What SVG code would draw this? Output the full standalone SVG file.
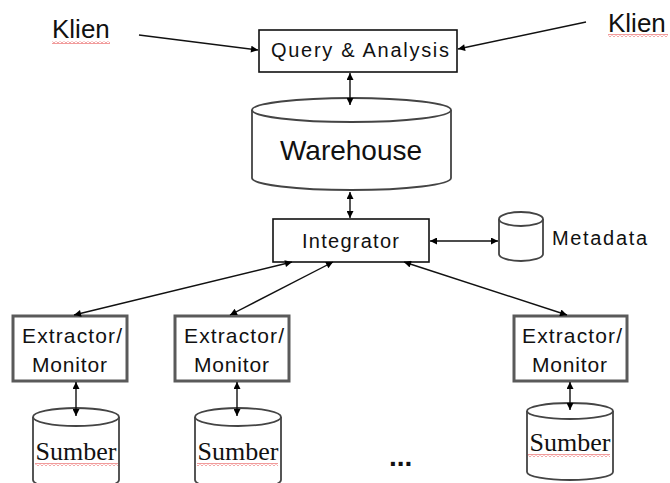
<svg xmlns="http://www.w3.org/2000/svg" width="670" height="483" viewBox="0 0 670 483">
  <defs>
    <marker id="arrow" viewBox="0 0 10 10" refX="10" refY="5" markerWidth="9" markerHeight="7" markerUnits="userSpaceOnUse" orient="auto-start-reverse">
      <path d="M0,0 L10,5 L0,10 Z" fill="#000"/>
    </marker>
    <pattern id="wavy" width="4" height="3" patternUnits="userSpaceOnUse">
      <polyline points="0,2.5 2,0.5 4,2.5" fill="none" stroke="#e02020" stroke-width="0.9"/>
    </pattern>
    <style>
      .lbl { font-family: "Liberation Sans", Arial, sans-serif; fill: #111; }
      .serif { font-family: "Liberation Serif", "Times New Roman", serif; fill: #111; }
      .box { fill: #fff; stroke: #111; stroke-width: 1.6; }
      .gbox { fill: #fff; stroke: #5a5a5a; stroke-width: 3; }
      .cyl { fill: #fff; stroke: #444; stroke-width: 1.8; }
      .conn { fill: none; stroke: #111; stroke-width: 1.4; }
    </style>
  </defs>
  <rect width="670" height="483" fill="#fff"/>

  <!-- clients -->
  <g id="klien-left">
    <text class="lbl" x="52" y="38" font-size="26">Klien</text>
    <rect x="52" y="41" width="58" height="3" fill="url(#wavy)"/>
  </g>
  <g id="klien-right">
    <text class="lbl" x="608" y="32" font-size="26">Klien</text>
    <rect x="608" y="34" width="60" height="3" fill="url(#wavy)"/>
  </g>

  <!-- query & analysis -->
  <g id="query">
    <rect class="box" x="259" y="30" width="198" height="42"/>
    <text class="lbl" x="271" y="57" font-size="20" textLength="178" lengthAdjust="spacing">Query &amp; Analysis</text>
  </g>

  <!-- warehouse store -->
  <g id="warehouse">
    <path class="cyl" d="M252,110 L252,178 A99.5,12 0 0 0 451,178 L451,110"/>
    <ellipse class="cyl" cx="351.5" cy="110" rx="99.5" ry="12"/>
    <text class="lbl" x="351" y="160" font-size="28" text-anchor="middle" fill="#222">Warehouse</text>
  </g>

  <!-- integrator -->
  <g id="integrator">
    <rect class="box" x="273" y="219" width="156" height="43"/>
    <text class="lbl" x="302" y="248" font-size="20" textLength="97" lengthAdjust="spacing">Integrator</text>
  </g>

  <!-- metadata store -->
  <g id="metadata">
    <path class="cyl" d="M499,219 L499,254 A22,7 0 0 0 543,254 L543,219"/>
    <ellipse class="cyl" cx="521" cy="219" rx="22" ry="7"/>
    <text class="lbl" x="552" y="245" font-size="20" textLength="95" lengthAdjust="spacing">Metadata</text>
  </g>

  <!-- extractors / monitors -->
  <g id="extractor-1">
    <rect class="gbox" x="13" y="316" width="114" height="65"/>
    <text class="lbl" x="22" y="343" font-size="21" textLength="100" lengthAdjust="spacing">Extractor/</text>
    <text class="lbl" x="32" y="372" font-size="21" textLength="75" lengthAdjust="spacing">Monitor</text>
  </g>
  <g id="extractor-2">
    <rect class="gbox" x="175" y="316" width="114" height="65"/>
    <text class="lbl" x="184" y="343" font-size="21" textLength="100" lengthAdjust="spacing">Extractor/</text>
    <text class="lbl" x="194" y="372" font-size="21" textLength="75" lengthAdjust="spacing">Monitor</text>
  </g>
  <g id="extractor-3">
    <rect class="gbox" x="514" y="316" width="113" height="65"/>
    <text class="lbl" x="522" y="343" font-size="21" textLength="100" lengthAdjust="spacing">Extractor/</text>
    <text class="lbl" x="532" y="372" font-size="21" textLength="75" lengthAdjust="spacing">Monitor</text>
  </g>

  <!-- source stores -->
  <g id="sumber-1">
    <path class="cyl" d="M33,417 L33,480 A43,9 0 0 0 119,480 L119,417"/>
    <ellipse class="cyl" cx="76" cy="417" rx="43" ry="9"/>
    <text class="serif" x="76" y="460" font-size="26" text-anchor="middle">Sumber</text>
    <rect x="35" y="463" width="83" height="3" fill="url(#wavy)"/>
  </g>
  <g id="sumber-2">
    <path class="cyl" d="M195,417 L195,480 A43,9 0 0 0 281,480 L281,417"/>
    <ellipse class="cyl" cx="238" cy="417" rx="43" ry="9"/>
    <text class="serif" x="238" y="460" font-size="26" text-anchor="middle">Sumber</text>
    <rect x="197" y="463" width="81" height="3" fill="url(#wavy)"/>
  </g>
  <g id="sumber-3">
    <path class="cyl" d="M527,411 L527,472 A43,8 0 0 0 613,472 L613,411"/>
    <ellipse class="cyl" cx="570" cy="411" rx="43" ry="8"/>
    <text class="serif" x="570" y="451" font-size="26" text-anchor="middle">Sumber</text>
    <rect x="528" y="454" width="82" height="3" fill="url(#wavy)"/>
  </g>

  <g id="ellipsis">
    <text class="lbl" x="389" y="466" font-size="28" font-weight="bold">...</text>
  </g>

  <!-- connectors -->
  <g id="connectors">
    <line class="conn" x1="139" y1="35" x2="258" y2="50" marker-end="url(#arrow)"/>
    <line class="conn" x1="586" y1="22" x2="458" y2="49" marker-end="url(#arrow)"/>
    <line class="conn" x1="350" y1="73" x2="350" y2="105" marker-start="url(#arrow)" marker-end="url(#arrow)"/>
    <line class="conn" x1="350" y1="192" x2="350" y2="218" marker-start="url(#arrow)" marker-end="url(#arrow)"/>
    <line class="conn" x1="430" y1="241" x2="498" y2="241" marker-start="url(#arrow)" marker-end="url(#arrow)"/>
    <line class="conn" x1="74" y1="315" x2="292" y2="262" marker-start="url(#arrow)" marker-end="url(#arrow)"/>
    <line class="conn" x1="230" y1="315" x2="333" y2="262" marker-start="url(#arrow)" marker-end="url(#arrow)"/>
    <line class="conn" x1="404" y1="262" x2="567" y2="315" marker-start="url(#arrow)" marker-end="url(#arrow)"/>
    <line class="conn" x1="76" y1="382" x2="76" y2="416" marker-start="url(#arrow)" marker-end="url(#arrow)"/>
    <line class="conn" x1="237" y1="382" x2="237" y2="416" marker-start="url(#arrow)" marker-end="url(#arrow)"/>
    <line class="conn" x1="570" y1="382" x2="570" y2="410" marker-start="url(#arrow)" marker-end="url(#arrow)"/>
  </g>
</svg>
